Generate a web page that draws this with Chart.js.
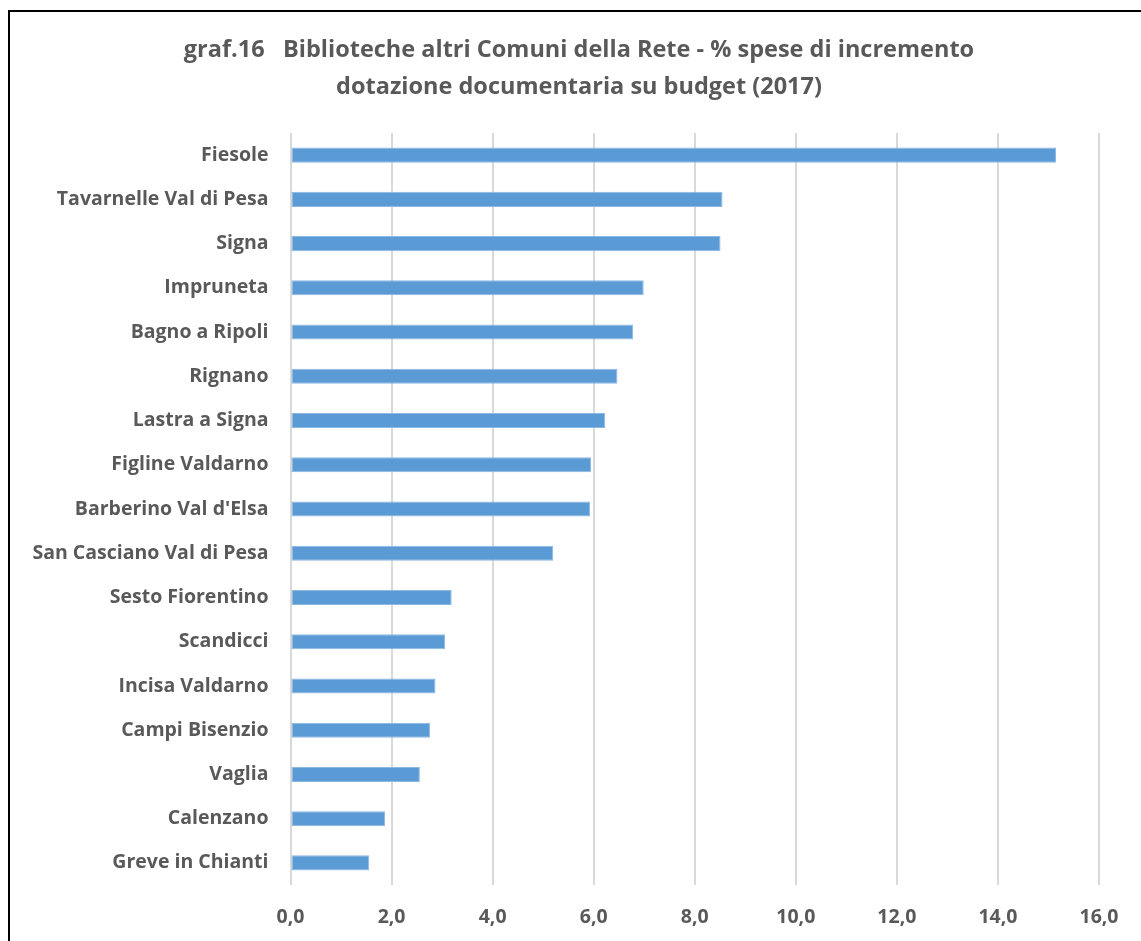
<!DOCTYPE html>
<html>
<head>
<meta charset="utf-8">
<script src="https://cdn.jsdelivr.net/npm/chart.js@4"></script>
<style>
  html, body { margin: 0; padding: 0; background: #fff; overflow: hidden; }
  #frame { position: absolute; left: 8px; top: 10px; width: 1300px; height: 1100px;
           border-left: 2px solid #000; border-top: 2px solid #000; }
  #wrap { position: absolute; left: 0; top: 0; width: 1158px; height: 941px; }
</style>
</head>
<body>
<div id="frame"></div>
<div id="wrap"><canvas id="chart" width="1158" height="941"></canvas></div>
<script>
const comuni = [
  'Fiesole', 'Tavarnelle Val di Pesa', 'Signa', 'Impruneta', 'Bagno a Ripoli',
  'Rignano', 'Lastra a Signa', 'Figline Valdarno', "Barberino Val d'Elsa",
  'San Casciano Val di Pesa', 'Sesto Fiorentino', 'Scandicci', 'Incisa Valdarno',
  'Campi Bisenzio', 'Vaglia', 'Calenzano', 'Greve in Chianti'
];
const percentuali = [
  15.15, 8.55, 8.51, 6.99, 6.78,
  6.47, 6.23, 5.95, 5.93,
  5.20, 3.19, 3.06, 2.87,
  2.76, 2.56, 1.87, 1.56
];
const tickLabels = ['0,0', '2,0', '4,0', '6,0', '8,0', '10,0', '12,0', '14,0', '16,0'];
const titolo = [
  'graf.16   Biblioteche altri Comuni della Rete - % spese di incremento',
  'dotazione documentaria su budget (2017)'
];

const grey = '#595959';
const fontFamily = '"Open Sans", sans-serif';

const ctx = document.getElementById('chart').getContext('2d');
const chart = new Chart(ctx, {
  type: 'bar',
  data: {
    labels: comuni,
    datasets: [{
      data: percentuali,
      backgroundColor: '#5b9bd5',
      borderColor: '#8db8e2',
      borderWidth: 1,
      borderSkipped: false,
      barPercentage: 0.68,
      categoryPercentage: 0.5
    }]
  },
  options: {
    indexAxis: 'y',
    responsive: false,
    animation: false,
    layout: { padding: 0 },
    plugins: {
      legend: { display: false },
      tooltip: { enabled: false },
      title: {
        display: true,
        text: titolo,
        color: grey,
        font: { family: fontFamily, size: 23.5, weight: 'bold', lineHeight: 1.575 },
        padding: { top: 32, bottom: 27 }
      }
    },
    scales: {
      x: {
        min: 0,
        max: 16,
        ticks: {
          stepSize: 2,
          color: grey,
          padding: 21,
          font: { family: fontFamily, size: 19.5, weight: 'bold' },
          callback: (v, i) => tickLabels[i]
        },
        grid: { color: '#d9d9d9', lineWidth: 2, drawTicks: false },
        border: { display: false },
        afterFit: (s) => { s.height = 56; s.paddingRight = 59; }
      },
      y: {
        ticks: {
          color: grey,
          padding: 22,
          font: { family: fontFamily, size: 19.5, weight: 'bold' }
        },
        grid: { display: false, drawTicks: false },
        border: { display: false },
        afterFit: (s) => { s.width = 290.5; }
      }
    }
  }
});
</script>
</body>
</html>
